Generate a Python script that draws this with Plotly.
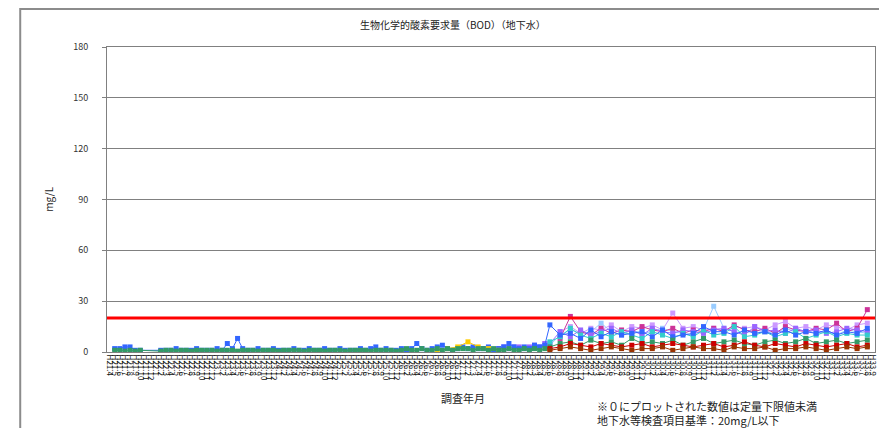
import plotly.graph_objects as go

# survey month categories (Heisei era, monthly)
start_year = 21
start_month = 4
n_months = 150
cats = []
for n in range(n_months):
    m = (start_month - 1 + n) % 12 + 1
    y = start_year + (start_month - 1 + n) // 12
    cats.append(f"H{y}.{m}")

# early period (first 86 months) - values in mg/L
blue_left = [None, 2, 2, 3, 3, 1, 1, None, None, None,
             1, 1, 1, 2, 1, 1, 1, 2, 1, 1,
             1, 2, 1, 5, 2, 8, 2, 1, 1, 2,
             1, 1, 2, 1, 1, 1, 2, 1, 1, 2,
             1, 1, 2, 1, 1, 2, 1, 1, 1, 2,
             1, 2, 3, 1, 2, 1, 1, 2, 1, 2,
             5, 2, 1, 2, 3, 4, 2, 1, 2, 3,
             2, 3, 2, 2, 3, 1, 2, 3, 5, 3,
             2, 3, 2, 4, 3, 4]
green_left = [None, 1, 1, 0.5, 1, 0.5, 1, None, None, None,
              0.5, 1, 1, 0.5, 1, 1, 0.5, 1, 1, 1,
              1, 0.5, 1, 1, 1, 0.5, 1, 1, 1, 0.5,
              1, 1, 1, 0.5, 1, 1, 1, 1, 0.5, 1,
              1, 1, 0.5, 1, 1, 1, 0.5, 1, 1, 1,
              1, 0.5, 1, 1, 1, 1, 0.5, 1, 2, 1,
              1, 2, 1, 1, 2, 1, 2, 1, 2, 2,
              2, 1, 2, 2, 1, 2, 1, 1, 2, 1,
              1, 2, 1, 2, 1, 2]
yellow_left = [None] * 64 + [1, None, 2, None, 3, None, 6, None, 3, None, 2, None, 1] + [None] * 9
violet_left = [None] * 76 + [2, 3, 2, 3, 3, 2, 3, 4, 3, 5]
empty_left = [None] * 86

# later period (measured every other month, 32 surveys)
blue_r = [16, 10, 11, 8, 13, 9, 12, 10, 11, 12, 9, 13, 9, 10, 11, 15,
          12, 12, 10, 13, 11, 12, 10, 13, 10, 12, 11, 13, 10, 12, 11, 14]
teal_r = [6, 9, 14, 10, 8, 11, 9, 12, 10, 8, 12, 10, 8, 11, 9, 13,
          10, 11, 15, 9, 10, 12, 9, 11, 12, 8, 10, 12, 9, 11, 10, 10]
violet_r = [5, 12, 9, 13, 10, 12, 14, 11, 13, 10, 14, 12, 11, 13, 12, 11,
            13, 14, 12, 10, 15, 12, 13, 11, 14, 12, 13, 11, 12, 14, 13, 12]
pink_r = [None, 8, 21, 12, 10, 14, 11, 13, 12, 15, 13, 12, 14, 11, 13, 12,
          14, 12, 16, 13, 12, 14, 11, 15, 13, 12, 14, 13, 17, 12, 14, 25]
lavender_r = [None, 12, 15, 11, 14, 13, 16, 12, 15, 14, 16, 13, 23, 14, 15, 13,
              14, 13, 15, 14, 15, 13, 16, 18, 14, 15, 13, 16, 15, 13, 16, 17]
lightblue_r = [4, 10, 13, 11, 12, 17, 12, 10, 13, 11, 12, 14, 12, 11, 10, 13,
               27, 14, 12, 11, 13, 12, 11, 14, 12, 13, 11, 12, 10, 13, 12, 11]
green_r = [3, 5, 6, 4, 7, 5, 6, 4, 8, 5, 6, 5, 7, 4, 6, 8,
           5, 6, 7, 5, 4, 6, 7, 5, 6, 8, 5, 6, 7, 5, 6, 7]
red_r = [2, 3, 5, 4, 3, 5, 4, 3, 4, 5, 3, 4, 5, 4, 3, 4,
         5, 3, 4, 6, 4, 3, 5, 4, 3, 5, 4, 3, 4, 5, 3, 4]
darkred_r = [1, 2, 3, 2, 1, 2, 3, 2, 1, 2, 2, 3, 1, 2, 3, 2,
             2, 1, 3, 2, 2, 3, 1, 2, 2, 3, 2, 1, 2, 3, 2, 3]
empty_r = [None] * 32

standard = 20  # 地下水等検査項目基準


def full_series(left, right):
    out = list(left)
    for v in right:
        out += [v, None]
    return out


series = [
    ("井戸1", "#99CCFF", empty_left, lightblue_r),
    ("井戸2", "#CC99FF", empty_left, lavender_r),
    ("井戸3", "#CC3399", empty_left, pink_r),
    ("井戸4", "#9966FF", violet_left, violet_r),
    ("井戸5", "#33CCCC", empty_left, teal_r),
    ("井戸6", "#3366FF", blue_left, blue_r),
    ("井戸7", "#FFCC00", yellow_left, empty_r),
    ("井戸8", "#339966", green_left, green_r),
    ("井戸9", "#CC0000", empty_left, red_r),
    ("井戸10", "#993300", empty_left, darkred_r),
]

fig = go.Figure()
for name, color, left, right in series:
    fig.add_trace(go.Scatter(x=cats, y=full_series(left, right), mode="lines+markers", name=name,
                             connectgaps=True,
                             line=dict(color=color, width=1),
                             marker=dict(symbol="square", size=5, color=color)))

font_family = "Noto Sans CJK JP"

fig.add_hline(y=standard, line_color="#FF0000", line_width=3)

# outer chart frame
fig.add_shape(type="rect", xref="paper", yref="paper", x0=-0.113, x1=1.05, y0=-0.4, y1=1.125,
              line=dict(color="#8c8c8c", width=2), layer="below")

fig.update_layout(
    width=879, height=420,
    margin=dict(l=99, r=8, t=39, b=76),
    paper_bgcolor="white", plot_bgcolor="white",
    showlegend=False,
    font=dict(family=font_family, color="#333333"),
)

fig.update_xaxes(type="category", tickmode="array", tickvals=cats, ticktext=cats,
                 tickangle=90, tickfont=dict(size=8, color="#111111"),
                 showline=True, linecolor="#808080", linewidth=1, mirror=True,
                 showgrid=False, ticks="", range=[-0.5, n_months - 0.5])
fig.update_yaxes(range=[0, 180], dtick=30, showgrid=True, gridcolor="#808080", gridwidth=1,
                 showline=True, linecolor="#808080", linewidth=1, mirror=True,
                 ticks="outside", ticklen=4, tickcolor="#808080",
                 tickfont=dict(size=9, color="#333333"), ticklabelstandoff=12, zeroline=False)

fig.add_annotation(text="生物化学的酸素要求量（BOD）（地下水）", xref="paper", yref="paper",
                   x=0.451, y=1.105, showarrow=False, font=dict(size=10, color="#222222"))
fig.add_annotation(text="mg/L", xref="paper", yref="paper", x=-0.089, y=0.5, textangle=-90,
                   showarrow=False, font=dict(size=10, color="#222222"))
fig.add_annotation(text="調査年月", xref="paper", yref="paper", x=0.464, y=-0.184,
                   showarrow=False, font=dict(size=11, color="#222222"))
fig.add_annotation(text="※０にプロットされた数値は定量下限値未満<br>地下水等検査項目基準：20mg/L以下",
                   xref="paper", yref="paper", x=0.635, y=-0.144, xanchor="left", yanchor="top",
                   align="left", showarrow=False, font=dict(size=11, color="#222222"))

fig.write_html("out.html")
